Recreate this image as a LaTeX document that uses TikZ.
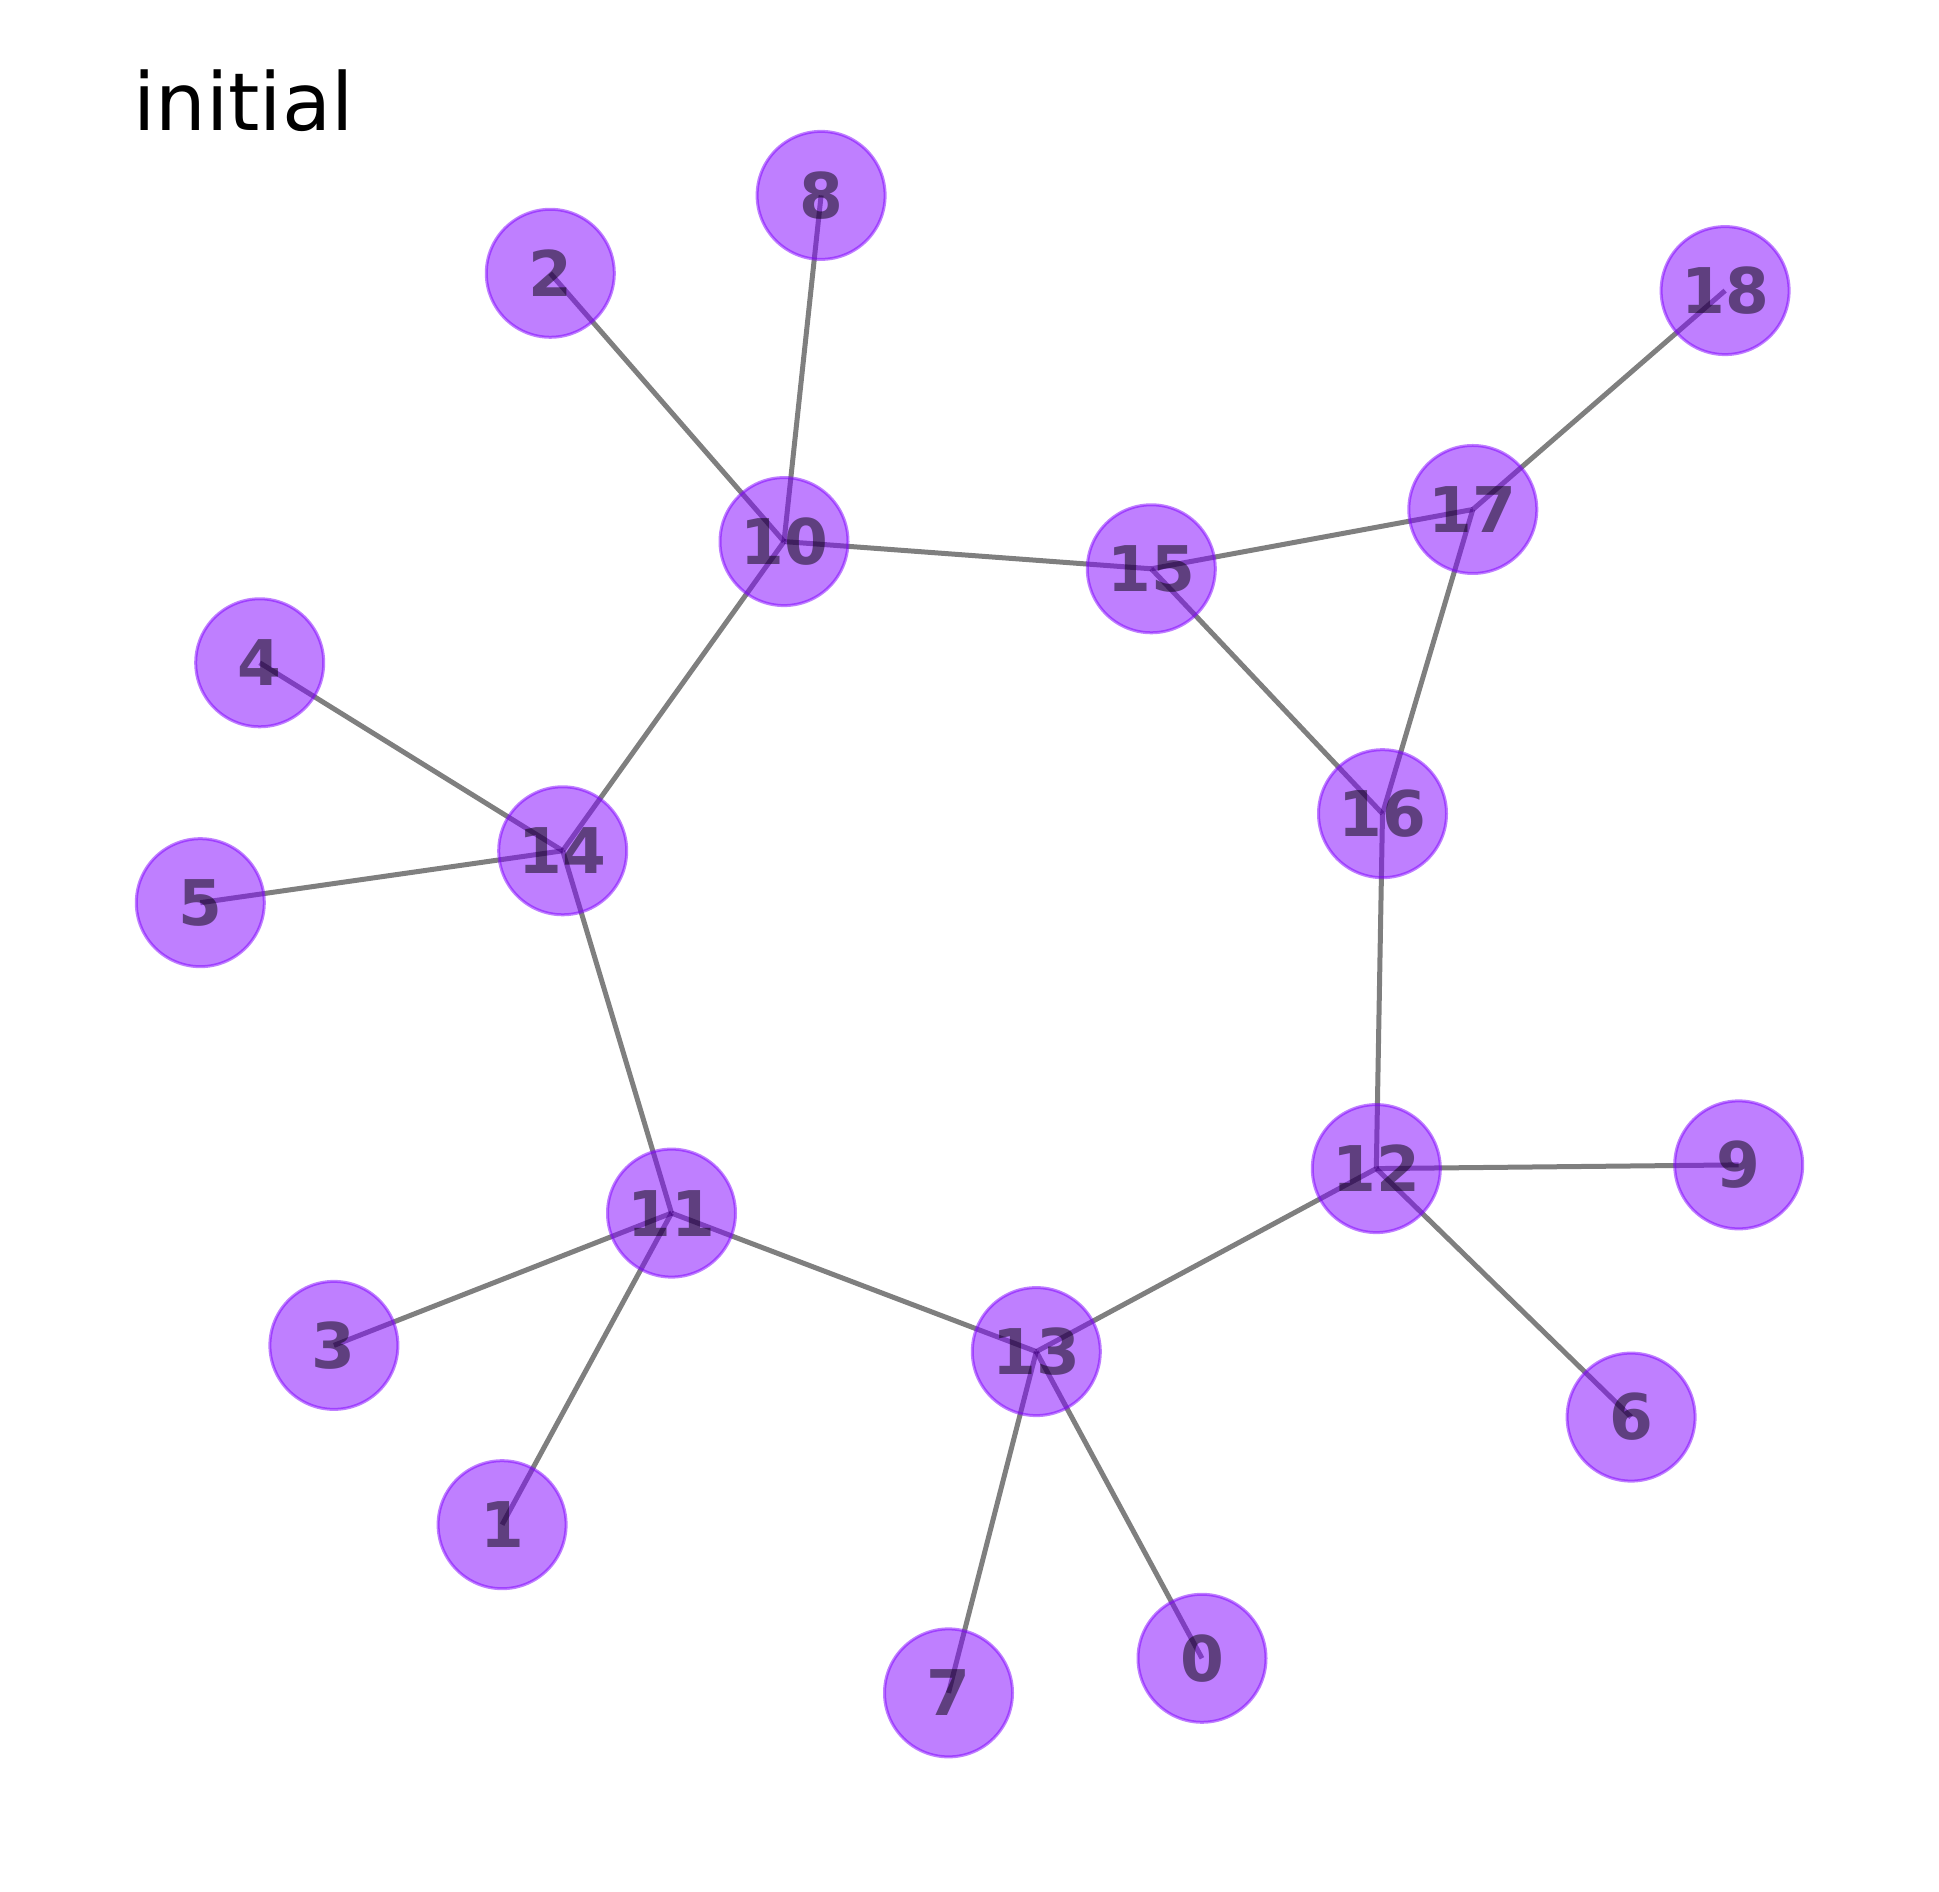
\documentclass[tikz,border=0pt]{standalone}
\usepackage{fontspec}
\setmainfont{DejaVu Sans}
\begin{document}
\begin{tikzpicture}[x=1pt,y=1pt,
  vtx/.style={circle,minimum size=128pt,inner sep=0pt,fill=vcol,fill opacity=0.5,draw=vcol,draw opacity=0.5,line width=3pt,text=black,text opacity=0.5,font=\fontsize{63}{63}\selectfont\bfseries},
  edg/.style={draw=black,draw opacity=0.5,line width=5pt}]
\definecolor{vcol}{HTML}{8000FF}
\useasboundingbox[fill=white] (0,0) rectangle (1939,1891);
\coordinate (c8) at (821.1,1695.6);
\coordinate (c2) at (550.3,1617.7);
\coordinate (c18) at (1725.1,1600.4);
\coordinate (c17) at (1472.8,1381.5);
\coordinate (c10) at (784.0,1349.4);
\coordinate (c15) at (1151.3,1322.2);
\coordinate (c4) at (259.7,1228.2);
\coordinate (c16) at (1382.5,1077.3);
\coordinate (c14) at (562.7,1040.2);
\coordinate (c5) at (200.3,988.3);
\coordinate (c12) at (1376.3,722.4);
\coordinate (c9) at (1738.7,726.1);
\coordinate (c11) at (671.5,677.9);
\coordinate (c3) at (333.9,545.6);
\coordinate (c13) at (1036.3,539.4);
\coordinate (c6) at (1631.1,473.9);
\coordinate (c1) at (502.1,366.3);
\coordinate (c0) at (1202.0,232.7);
\coordinate (c7) at (948.5,198.1);
\foreach \a/\b in {2/10,8/10,10/15,10/14,15/17,15/16,17/18,17/16,16/12,4/14,5/14,14/11,11/3,11/1,11/13,13/12,13/7,13/0,12/9,12/6}
  \draw[edg] (c\a) -- (c\b);
\foreach \n in {0,...,18}
  \node[vtx] (n\n) at (c\n) {\n};
\node[anchor=base west,inner sep=0pt,font=\fontsize{80}{80}\selectfont] (title) at (133,1760) {initial};
\end{tikzpicture}
\end{document}
